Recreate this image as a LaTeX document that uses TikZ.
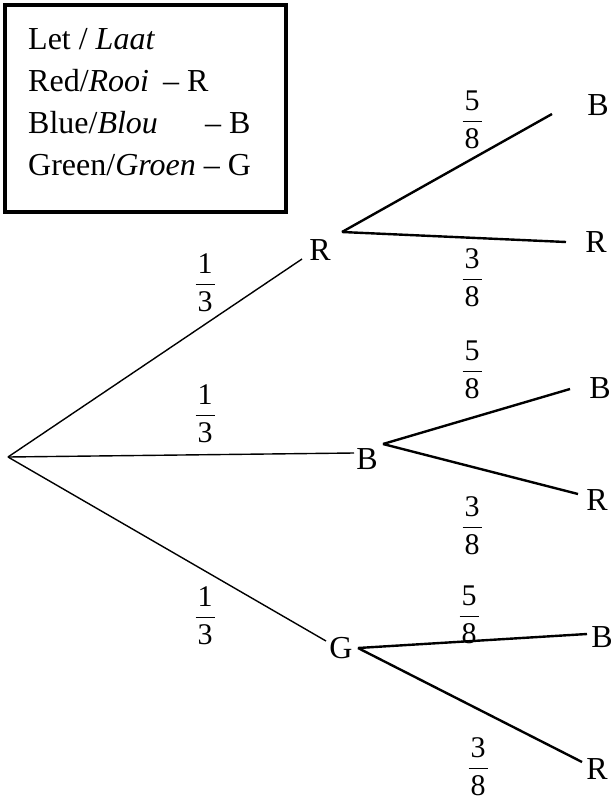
\documentclass[tikz,border=0pt]{standalone}
\usepackage{fontspec}
\setmainfont{Liberation Serif}
\newcommand\fr[2]{$\displaystyle\frac{\mbox{\kern2pt#1\kern2pt}\rule[-5pt]{0pt}{5pt}}{\mbox{\kern2pt#2\kern2pt}\rule{0pt}{26pt}}$}
\begin{document}
\begin{tikzpicture}[x=1pt,y=-1pt,
  lbl/.style={inner sep=0pt,font=\fontsize{32}{38}\selectfont},
  legend/.style={inner sep=0pt,anchor=base west,font=\fontsize{32}{38}\selectfont},
  frac/.style={inner sep=0pt,font=\fontsize{30}{34}\selectfont},
  lvlone/.style={line width=1.4pt},
  lvltwo/.style={line width=2.4pt}]
\useasboundingbox (0,0) rectangle (614,803);
% legend box
\draw[line width=4pt] (5,5) rectangle (286,212);
\node[legend] (l1) at (28,49) {Let / \textit{Laat}};
\node[legend] (l2) at (28,91) {Red/\textit{Rooi}};
\node[legend] (l2b) at (163,91) {– R};
\node[legend] (l3) at (28,133) {Blue/\textit{Blou}};
\node[legend] (l3b) at (205,133) {– B};
\node[legend] (l4) at (28,175) {Green/\textit{Groen} – G};
% root and junctions
\coordinate (O) at (8,457);
\node[lbl] (R1) at (320,250) {R};
\node[lbl] (B1) at (367,459) {B};
\node[lbl] (G1) at (341,648) {G};
\coordinate (R1in) at (302,259);
\coordinate (R1out) at (342,232);
\coordinate (B1in) at (354,453);
\coordinate (B1out) at (383,444);
\coordinate (G1in) at (326,641);
\coordinate (G1out) at (358,648);
% leaves
\node[lbl] (RB) at (598,105) {B};
\node[lbl] (RR) at (596,242) {R};
\node[lbl] (BB) at (600,388) {B};
\node[lbl] (BR) at (597,500) {R};
\node[lbl] (GB) at (602,637) {B};
\node[lbl] (GR) at (597,769) {R};
\coordinate (RBe) at (552,114);
\coordinate (RRe) at (566,242);
\coordinate (BBe) at (570,389);
\coordinate (BRe) at (578,494);
\coordinate (GBe) at (587,634);
\coordinate (GRe) at (582,762);
% branches
\draw[lvlone] (O) -- (R1in);
\draw[lvlone] (O) -- (B1in);
\draw[lvlone] (O) -- (G1in);
\draw[lvltwo] (R1out) -- (RBe);
\draw[lvltwo] (R1out) -- (RRe);
\draw[lvltwo] (B1out) -- (BBe);
\draw[lvltwo] (B1out) -- (BRe);
\draw[lvltwo] (G1out) -- (GBe);
\draw[lvltwo] (G1out) -- (GRe);
% probabilities
\node[frac] (p1) at (205,283) {\fr{1}{3}};
\node[frac] (p2) at (205,414) {\fr{1}{3}};
\node[frac] (p3) at (205,616) {\fr{1}{3}};
\node[frac] (p4) at (472,120) {\fr{5}{8}};
\node[frac] (p5) at (472,278) {\fr{3}{8}};
\node[frac] (p6) at (472,370) {\fr{5}{8}};
\node[frac] (p7) at (472,526) {\fr{3}{8}};
\node[frac] (p8) at (469,615) {\fr{5}{8}};
\node[frac] (p9) at (478,767) {\fr{3}{8}};
\end{tikzpicture}
\end{document}
